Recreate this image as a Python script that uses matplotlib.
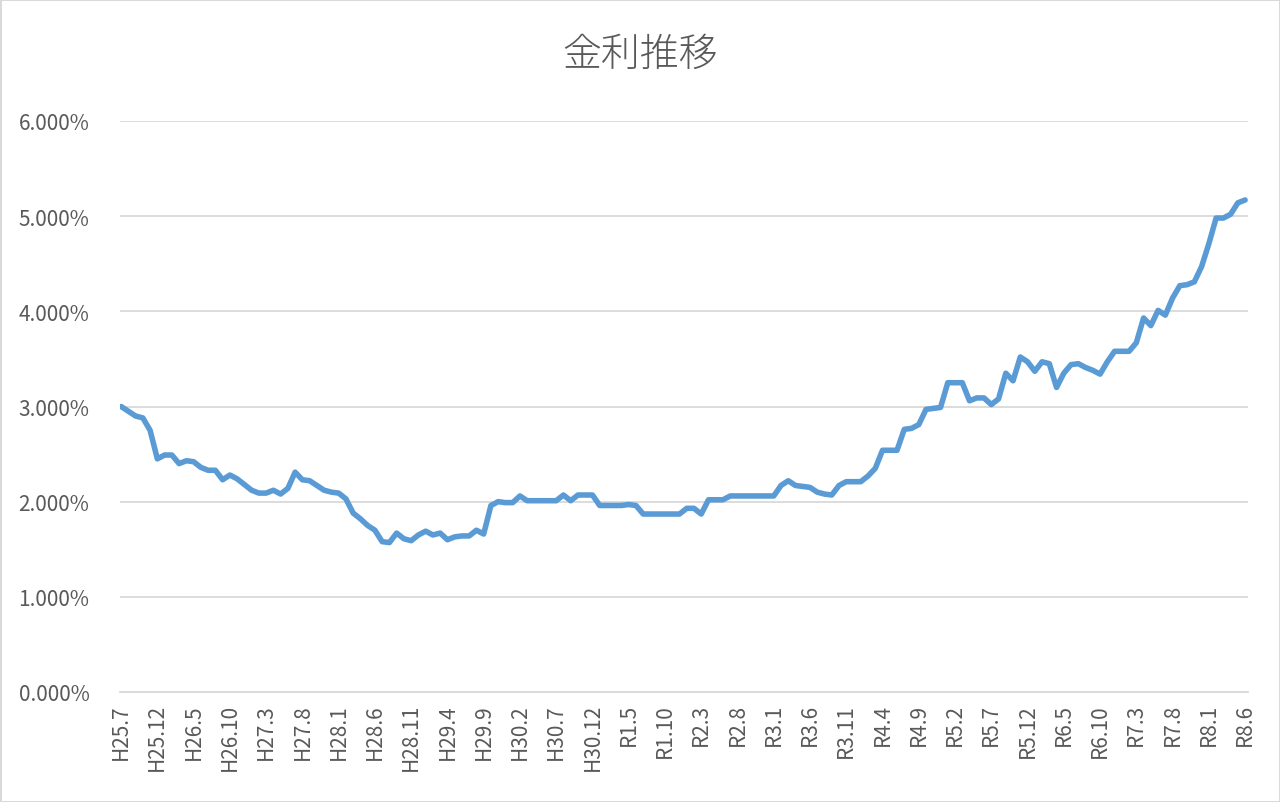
import numpy as np
import matplotlib.pyplot as plt

plt.rcParams['font.family'] = ['Noto Sans CJK JP', 'DejaVu Sans']

# monthly rate (%) from H25.7 (2013-07) to R8.6 (2026-06)
rates = [
    3.00, 2.95, 2.90, 2.88, 2.75, 2.45, 2.49, 2.49, 2.40, 2.43,
    2.42, 2.36, 2.33, 2.33, 2.23, 2.28, 2.24, 2.18, 2.12, 2.09,
    2.09, 2.12, 2.08, 2.14, 2.31, 2.23, 2.22, 2.17, 2.12, 2.10,
    2.09, 2.03, 1.88, 1.82, 1.75, 1.70, 1.58, 1.57, 1.67, 1.61,
    1.59, 1.65, 1.69, 1.65, 1.67, 1.60, 1.63, 1.64, 1.64, 1.70,
    1.66, 1.96, 2.00, 1.99, 1.99, 2.06, 2.01, 2.01, 2.01, 2.01,
    2.01, 2.07, 2.01, 2.07, 2.07, 2.07, 1.96, 1.96, 1.96, 1.96,
    1.97, 1.96, 1.87, 1.87, 1.87, 1.87, 1.87, 1.87, 1.93, 1.93,
    1.87, 2.02, 2.02, 2.02, 2.06, 2.06, 2.06, 2.06, 2.06, 2.06,
    2.06, 2.17, 2.22, 2.17, 2.16, 2.15, 2.10, 2.08, 2.07, 2.17,
    2.21, 2.21, 2.21, 2.27, 2.35, 2.54, 2.54, 2.54, 2.76, 2.77,
    2.81, 2.97, 2.98, 2.99, 3.25, 3.25, 3.25, 3.06, 3.09, 3.09,
    3.02, 3.08, 3.35, 3.27, 3.52, 3.47, 3.37, 3.47, 3.45, 3.20,
    3.35, 3.44, 3.45, 3.41, 3.38, 3.34, 3.47, 3.58, 3.58, 3.58,
    3.67, 3.93, 3.85, 4.01, 3.96, 4.14, 4.27, 4.28, 4.31, 4.47,
    4.71, 4.98, 4.98, 5.02, 5.14, 5.17,
]
start_year, start_month = 2013, 7
title = "金利推移"


def era_label(year, month):
    if year < 2019 or (year == 2019 and month < 5):
        return f"H{year - 1988}.{month}"
    return f"R{year - 2018}.{month}"


labels = []
for k in range(len(rates)):
    m = start_month - 1 + k
    labels.append(era_label(start_year + m // 12, m % 12 + 1))

text_col = "#595959"
grid_col = "#D9D9D9"

fig = plt.figure(figsize=(12.8, 8.03), dpi=100)
fig.patch.set_edgecolor(grid_col)
fig.patch.set_linewidth(2)
ax = fig.add_axes([120 / 1280, 1 - 693 / 803, 1128 / 1280, (693 - 122) / 803])

x = np.arange(len(rates))
ax.plot(x, rates, color="#5B9BD5", linewidth=4, solid_joinstyle="round",
        solid_capstyle="round", zorder=3)

ax.set_ylim(0, 6)
ax.set_xlim(-0.15, len(rates) - 1 + 0.4)
ax.set_yticks(np.arange(0, 7, 1))
ax.set_yticklabels([f"{v:.3f}%" for v in range(7)])
ax.set_xticks(x[::5])
ax.set_xticklabels(labels[::5], rotation=90)
ax.grid(axis="y", color=grid_col, linewidth=1.3)
ax.set_axisbelow(True)
for s in ["top", "right", "left"]:
    ax.spines[s].set_visible(False)
ax.spines["bottom"].set_color(grid_col)
ax.spines["bottom"].set_linewidth(1.3)
ax.tick_params(axis="both", length=0, colors=text_col, labelsize=15)
ax.tick_params(axis="y", pad=22)
ax.tick_params(axis="x", pad=8)

fig.text(0.5, 1 - 55 / 803, title, ha="center", va="center", fontsize=28,
         color=text_col, fontweight="light")

fig.savefig("out.png", dpi=100, edgecolor=fig.get_edgecolor())
